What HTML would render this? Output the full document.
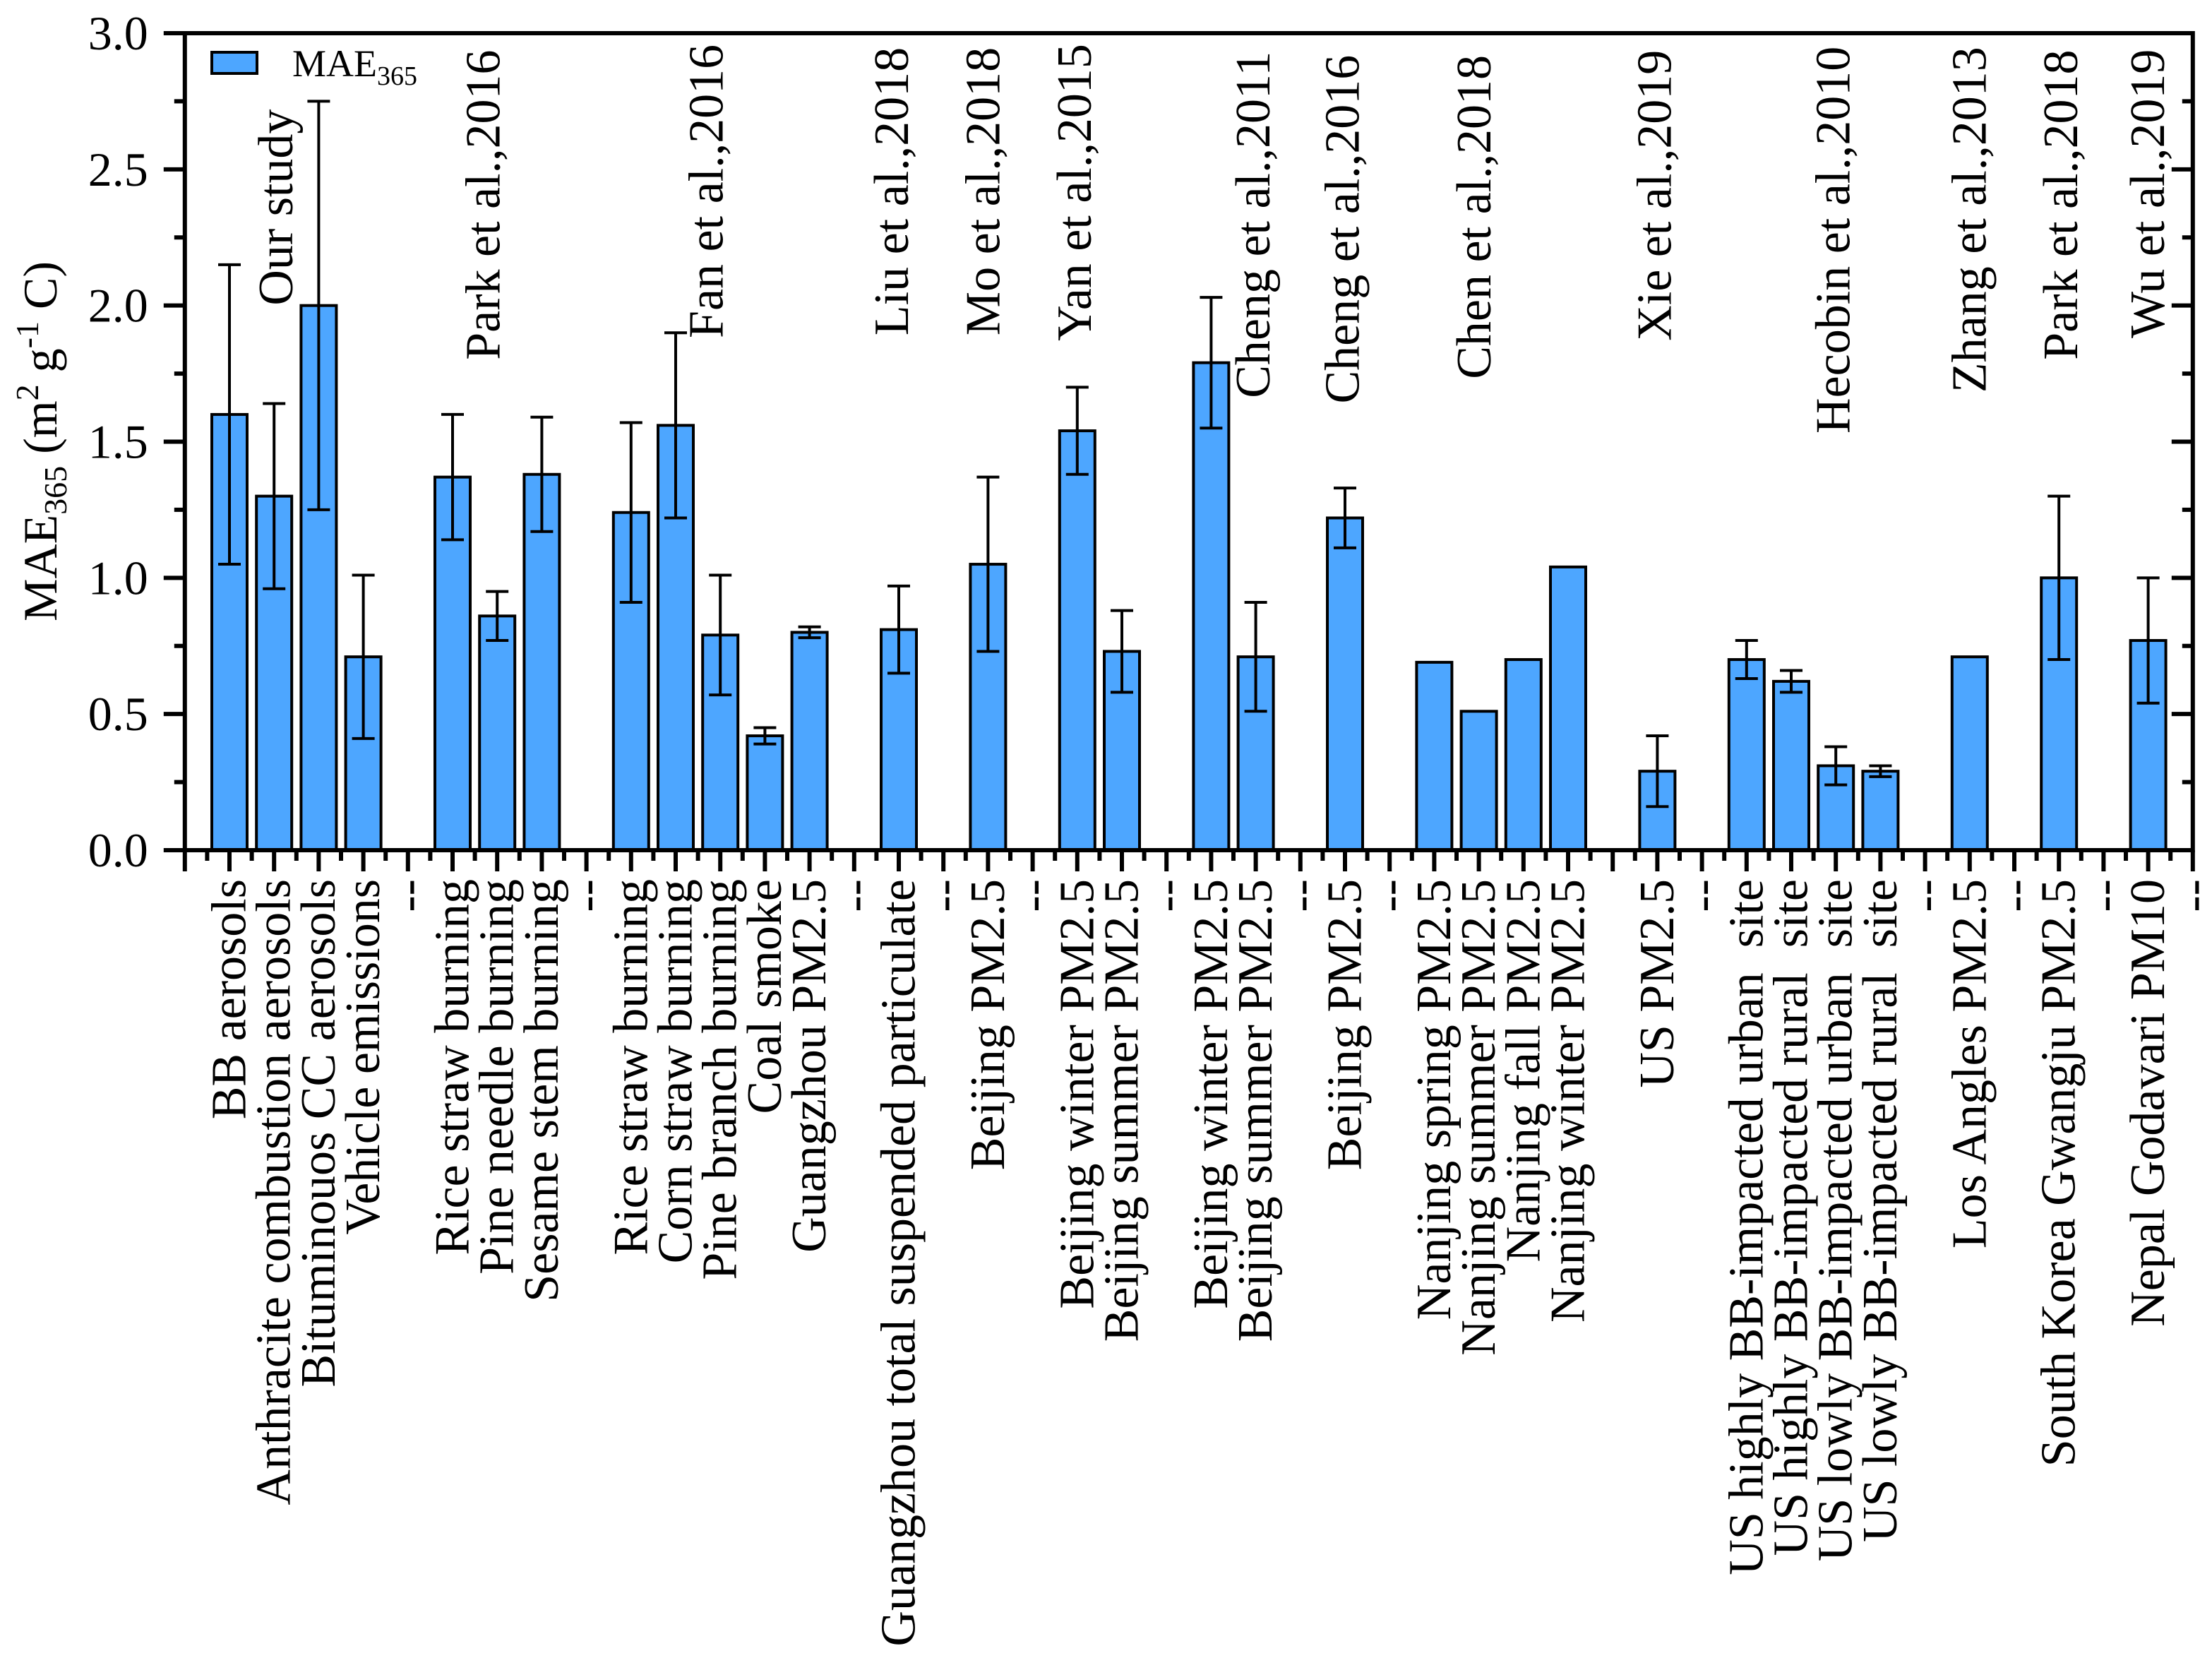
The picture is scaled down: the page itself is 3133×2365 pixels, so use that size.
<!DOCTYPE html>
<html><head><meta charset="utf-8"><style>
html,body{margin:0;padding:0;background:#fff;}
svg{display:block;font-family:"Liberation Serif",serif;}
text{white-space:pre;}
</style></head><body>
<svg id="chart" width="3133" height="2365" viewBox="0 0 3133 2365" xmlns="http://www.w3.org/2000/svg">
<rect x="0" y="0" width="3133" height="2365" fill="#fff"/>
<g id="plot"></g>
</svg>
<script>
const categories = ["BB aerosols","Anthracite combustion aerosols","Bituminouos CC aerosols","Vehicle emissions","--","Rice straw burning","Pine needle burning","Sesame stem burning","--","Rice straw burning","Corn straw burning","Pine branch burning","Coal smoke","Guangzhou PM2.5","--","Guangzhou total suspended particulate","--","Beijing PM2.5","--","Beijing winter PM2.5","Beijing summer PM2.5","--","Beijing winter PM2.5","Beijing summer PM2.5","--","Beijing PM2.5","--","Nanjing spring PM2.5","Nanjing summer PM2.5","Nanjing fall PM2.5","Nanjing winter PM2.5","","US PM2.5","--","US highly BB-impacted urban  site","US highly BB-impacted rural  site","US lowly BB-impacted urban  site","US lowly BB-impacted rural  site","--","Los Angles PM2.5","--","South Korea Gwangju PM2.5","--","Nepal Godavari PM10","--"];
const values = [1.60,1.30,2.00,0.71,null,1.37,0.86,1.38,null,1.24,1.56,0.79,0.42,0.80,null,0.81,null,1.05,null,1.54,0.73,null,1.79,0.71,null,1.22,null,0.69,0.51,0.70,1.04,null,0.29,null,0.70,0.62,0.31,0.29,null,0.71,null,1.00,null,0.77,null];
const errors = [0.55,0.34,0.75,0.30,null,0.23,0.09,0.21,null,0.33,0.34,0.22,0.03,0.02,null,0.16,null,0.32,null,0.16,0.15,null,0.24,0.20,null,0.11,null,0,0,0,0,null,0.13,null,0.07,0.04,0.07,0.02,null,0,null,0.30,null,0.23,null];
const yTicks = [0.0,0.5,1.0,1.5,2.0,2.5,3.0];
const yTickLabels = ["0.0","0.5","1.0","1.5","2.0","2.5","3.0"];
const annotations = ["Our study","Park et al.,2016","Fan et al.,2016","Liu et al.,2018","Mo et al.,2018","Yan et al.,2015","Cheng et al.,2011","Cheng et al.,2016","Chen et al.,2018","Xie et al.,2019","Hecobin et al.,2010","Zhang et al.,2013","Park et al.,2018","Wu et al.,2019"];
const annotationX = [1.05,5.7,10.7,14.85,16.9,18.95,22.95,24.95,27.9,31.95,35.95,39.0,41.05,43.0];
const annotationY = [2.0,1.8,1.88,1.89,1.89,1.87,1.66,1.64,1.73,1.87,1.53,1.68,1.80,1.88];

const NS="http://www.w3.org/2000/svg";
const g=document.getElementById('plot');
const X0=325, DX=63.2, Y0=1204, YTOP=47, YMAX=3.0;
const xs=i=>X0+DX*i;
const ys=v=>Y0-v*(Y0-YTOP)/YMAX;
const LEFT=xs(-1), RIGHT=xs(categories.length-1);
function mk(tag,attrs,parent){const e=document.createElementNS(NS,tag);for(const k in attrs)e.setAttribute(k,attrs[k]);(parent||g).appendChild(e);return e;}

values.forEach((v,i)=>{
  if(v===null)return;
  const bw=50;
  const b=mk('rect',{x:xs(i)-bw/2,y:ys(v),width:bw,height:Y0-ys(v),fill:'#4DA6FF',stroke:'#000','stroke-width':4});
  
  
  const e=errors[i];
  if(e){
    const eg=mk('g',{stroke:'#000','stroke-width':4});
    
    
    mk('line',{x1:xs(i),x2:xs(i),y1:ys(v-e),y2:ys(v+e)},eg);
    mk('line',{x1:xs(i)-16,x2:xs(i)+16,y1:ys(v+e),y2:ys(v+e)},eg);
    mk('line',{x1:xs(i)-16,x2:xs(i)+16,y1:ys(v-e),y2:ys(v-e)},eg);
  }
});

const frame=mk('rect',{x:LEFT,y:YTOP,width:RIGHT-LEFT,height:Y0-YTOP,fill:'none',stroke:'#000','stroke-width':6});



yTicks.forEach((t,k)=>{
  mk('line',{x1:LEFT-30,x2:LEFT,y1:ys(t),y2:ys(t),stroke:'#000','stroke-width':6});
  mk('line',{x1:RIGHT,x2:RIGHT-30,y1:ys(t),y2:ys(t),stroke:'#000','stroke-width':6});
  if(k<yTicks.length-1){const m=t+0.25;
    mk('line',{x1:LEFT-15,x2:LEFT,y1:ys(m),y2:ys(m),stroke:'#000','stroke-width':6});
    mk('line',{x1:RIGHT,x2:RIGHT-15,y1:ys(m),y2:ys(m),stroke:'#000','stroke-width':6});}
  const tl=mk('text',{x:LEFT-52,y:ys(t)+23,'text-anchor':'end','font-size':68});
  tl.textContent=yTickLabels[k];
  
  
});

for(let i=-1;i<categories.length;i++){
  mk('line',{x1:xs(i),x2:xs(i),y1:Y0,y2:Y0+30,stroke:'#000','stroke-width':6});
  mk('line',{x1:xs(i)+DX/2,x2:xs(i)+DX/2,y1:Y0,y2:Y0+15,stroke:'#000','stroke-width':6});
}
categories.forEach((c,i)=>{
  if(!c)return;
  const ly=1245;
  const t=mk('text',{x:xs(i),y:ly,'text-anchor':'end','font-size':70,'dominant-baseline':'central',transform:`rotate(-90 ${xs(i)} ${ly})`});
  t.textContent=c;
  
  
});

annotations.forEach((a,k)=>{
  const x=xs(annotationX[k]), y=ys(annotationY[k]);
  const t=mk('text',{x:x,y:y,'font-size':70,'dominant-baseline':'central',transform:`rotate(-90 ${x} ${y})`});
  t.textContent=a;
  
  
});

const lg=mk('g',{});


mk('rect',{x:300,y:74,width:64,height:30,fill:'#4DA6FF',stroke:'#000','stroke-width':4},lg);
const lt=mk('text',{x:414,y:108,'font-size':54},lg);
lt.innerHTML='MAE<tspan font-size="38" dy="12">365</tspan>';

const yt=mk('text',{x:0,y:0,'font-size':68,'text-anchor':'middle',transform:'translate(80 625) rotate(-90)'});
yt.innerHTML='MAE<tspan font-size="46" dy="14">365</tspan><tspan dy="-14"> (m</tspan><tspan font-size="46" dy="-26">2</tspan><tspan dy="26"> g</tspan><tspan font-size="46" dy="-26">-1</tspan><tspan dy="26"> C)</tspan>';


</script>
</body></html>
